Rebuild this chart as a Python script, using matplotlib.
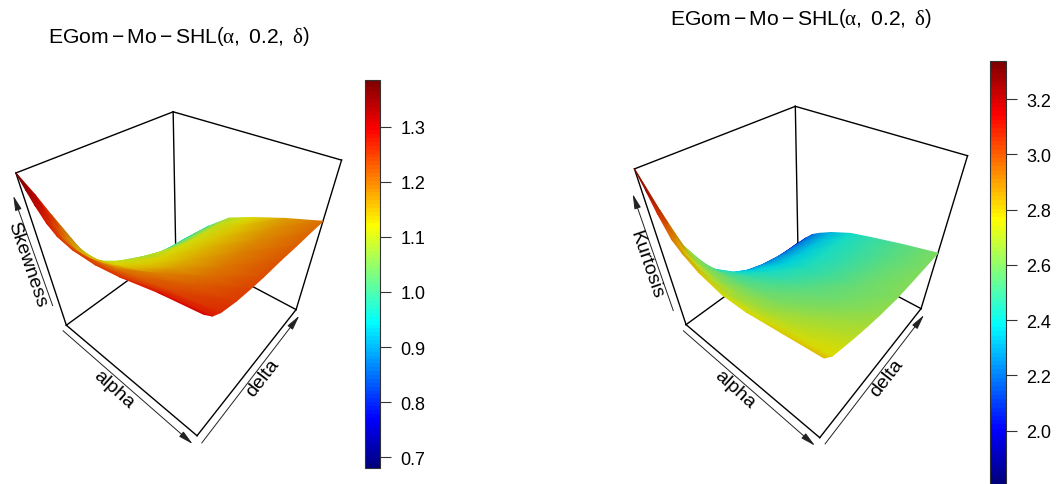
import numpy as np
import matplotlib
matplotlib.use('Agg')
import matplotlib.pyplot as plt
from matplotlib.colors import LinearSegmentedColormap, Normalize
from matplotlib.cm import ScalarMappable
from matplotlib.patches import FancyArrowPatch
from matplotlib.tri import Triangulation
from mpl_toolkits.mplot3d import proj3d

plt.rcParams['font.family'] = ['Liberation Sans', 'DejaVu Sans']
plt.rcParams['mathtext.fontset'] = 'custom'
plt.rcParams['mathtext.rm'] = 'Liberation Sans'
plt.rcParams['mathtext.it'] = 'Liberation Serif'

# surface heights, rows follow alpha, columns follow delta
alpha = [0, .04, .08, .14, .2, .3, .45, .6, .8, 1]
delta = [0, .05, .1, .2, .3, .4, .55, .7, .85, 1]
skewness = [
    [1.385, 1.318, 1.243, 1.096, 1.004, .938, .878, .851, .840, .840],
    [1.350, 1.285, 1.215, 1.087, 1.009, .955, .905, .879, .867, .862],
    [1.318, 1.255, 1.192, 1.084, 1.020, .976, .935, .910, .898, .889],
    [1.280, 1.222, 1.170, 1.087, 1.041, 1.009, .955, .935, .925, .915],
    [1.258, 1.205, 1.160, 1.102, 1.069, 1.040, 1.000, .982, .972, .960],
    [1.245, 1.205, 1.170, 1.124, 1.102, 1.082, 1.050, 1.035, 1.026, 1.015],
    [1.245, 1.218, 1.195, 1.155, 1.135, 1.125, 1.115, 1.103, 1.096, 1.085],
    [1.258, 1.235, 1.215, 1.190, 1.167, 1.158, 1.150, 1.140, 1.133, 1.123],
    [1.285, 1.260, 1.240, 1.222, 1.207, 1.198, 1.191, 1.182, 1.176, 1.167],
    [1.304, 1.275, 1.260, 1.246, 1.238, 1.232, 1.227, 1.219, 1.213, 1.205],
]
kurtosis = [
    [3.339, 3.040, 2.745, 2.438, 2.241, 2.134, 2.067, 2.013, 2.000, 2.000],
    [3.225, 2.960, 2.710, 2.453, 2.284, 2.187, 2.118, 2.072, 2.058, 2.054],
    [3.095, 2.870, 2.675, 2.469, 2.330, 2.245, 2.179, 2.141, 2.127, 2.121],
    [2.945, 2.770, 2.640, 2.492, 2.386, 2.315, 2.253, 2.224, 2.210, 2.201],
    [2.880, 2.730, 2.635, 2.514, 2.425, 2.361, 2.303, 2.278, 2.265, 2.254],
    [2.805, 2.695, 2.630, 2.538, 2.470, 2.419, 2.368, 2.349, 2.338, 2.328],
    [2.750, 2.680, 2.635, 2.565, 2.519, 2.482, 2.445, 2.431, 2.423, 2.415],
    [2.750, 2.695, 2.655, 2.600, 2.558, 2.526, 2.494, 2.483, 2.476, 2.469],
    [2.790, 2.735, 2.705, 2.658, 2.619, 2.590, 2.559, 2.549, 2.542, 2.536],
    [2.830, 2.770, 2.750, 2.710, 2.677, 2.649, 2.618, 2.609, 2.602, 2.595],
]
skew_ticks = [0.7, 0.8, 0.9, 1.0, 1.1, 1.2, 1.3]
kurt_ticks = [2.0, 2.2, 2.4, 2.6, 2.8, 3.0, 3.2]
W, H = 1061, 485

jet = LinearSegmentedColormap.from_list('jetlike', ['#00007F', 'blue', '#007FFF', 'cyan', '#7FFF7F',
                                                    'yellow', '#FF7F00', 'red', '#7F0000'], N=100)
surf_cmap = LinearSegmentedColormap.from_list('surf', jet(np.linspace(0, 1, 256))[:, :3] * 0.86)

def fx(x):
    return x / W

def fy(y):
    return 1 - y / H

def panel(z, box_lim, key_lim, ox, oy, s, title_xy, zlabel, zlabel_xy, alpha_xy, delta_xy,
          z_arrow, a_arrow, d_arrow, bar_box, ticks):
    z = np.array(z)
    vx0, vx1, vy0, vy1 = -0.095, 0.09, -0.095, 0.09
    pos = [fx(ox + s * vx0), fy(oy - s * vy0), s * (vx1 - vx0) / W, s * (vy1 - vy0) / H]
    ax = fig.add_axes(pos, projection='3d')
    ax.set_axis_off()
    ax.patch.set_alpha(0)
    ax.set_xlim3d(0, 1)
    ax.set_ylim3d(0, 1)
    ax.set_zlim3d(*box_lim)
    ax.set_box_aspect((1, 1, 1))
    ax.view_init(40, -50)
    ax.set_proj_type('persp', focal_length=0.205)
    zb, zt = box_lim
    edges = [((0, 0, zt), (0, 1, zt)), ((0, 1, zt), (1, 1, zt)), ((0, 0, zt), (0, 0, zb)), ((1, 1, zt), (1, 1, zb)),
             ((0, 1, zt), (0, 1, zb)), ((0, 0, zb), (0, 1, zb)), ((0, 1, zb), (1, 1, zb)), ((0, 0, zb), (1, 0, zb)),
             ((1, 0, zb), (1, 1, zb))]
    for a, b in edges:
        ax.plot([a[0], b[0]], [a[1], b[1]], [a[2], b[2]], color='k', lw=1.0, clip_on=False)

    # surface goes on a flat axes over the 3d one, far triangles first
    A, D = np.meshgrid(alpha, delta, indexing='ij')
    tx, ty, tz = proj3d.proj_transform(A.ravel(), D.ravel(), z.ravel(), ax.get_proj())
    na, nd = A.shape
    tris = []
    for i in range(na - 1):
        for j in range(nd - 1):
            p = i * nd + j
            tris.append([p, p + nd, p + nd + 1])
            tris.append([p, p + nd + 1, p + 1])
    tris = np.array(tris)
    tris = tris[np.argsort(-tz[tris].mean(axis=1))]
    over = fig.add_axes(pos)
    over.set_axis_off()
    over.patch.set_alpha(0)
    over.tripcolor(Triangulation(tx, ty, tris), z.ravel(), shading='gouraud', cmap=surf_cmap,
                   vmin=key_lim[0], vmax=key_lim[1], clip_on=False)
    over.set_xlim(vx0, vx1)
    over.set_ylim(vy0, vy1)

    title = r'$\mathrm{EGom}-\mathrm{Mo}-\mathrm{SHL}\left(\alpha,\ 0.2,\ \delta\right)$'
    fig.text(fx(title_xy[0]), fy(title_xy[1]), title, ha='center', va='center', fontsize=15.2)
    for label, xy, rot in ((zlabel, zlabel_xy, -71), ('alpha', alpha_xy, -42), ('delta', delta_xy, 52)):
        fig.text(fx(xy[0]), fy(xy[1]), label, ha='center', va='center', fontsize=14,
                 rotation=rot, rotation_mode='anchor')
    for arrow in (z_arrow, a_arrow, d_arrow):
        fig.add_artist(FancyArrowPatch((fx(arrow[0]), fy(arrow[1])), (fx(arrow[2]), fy(arrow[3])),
                                       transform=fig.transFigure, arrowstyle='-|>,head_length=0.9,head_width=0.2',
                                       mutation_scale=10, lw=0.7, color='#222222', shrinkA=0, shrinkB=0))

    cax = fig.add_axes([fx(bar_box[0]), fy(bar_box[3]), (bar_box[1] - bar_box[0]) / W, (bar_box[3] - bar_box[2]) / H])
    cb = fig.colorbar(ScalarMappable(Normalize(*key_lim), jet), cax=cax, ticks=ticks, format='%.1f')
    cb.outline.set_edgecolor('#333333')
    cb.outline.set_linewidth(0.8)
    cax.tick_params(length=8, width=0.8, color='#333333', labelsize=13, pad=7)

fig = plt.figure(figsize=(W / 100, H / 100), dpi=100)
panel(skewness, (0.84, 1.385), (0.68, 1.385), 183.7, 255.8, 1737, (178.5, 36), 'Skewness', (27, 265), (114, 390), (263, 378),
      (52.7, 306.7, 13.3, 196.7), (63, 331.7, 192.7, 445), (201.7, 444, 299.3, 316.7), (364.5, 379.5, 80.7, 469.3), skew_ticks)
panel(kurtosis, (2.0, 3.339), (1.808, 3.339), 806.1, 253.6, 1776.7, (801, 19), 'Kurtosis', (646, 265), (735, 390), (886.7, 378),
      (673.3, 311.7, 632.7, 195), (683.3, 331.7, 815, 446.7), (825, 445, 924, 316), (990, 1005.5, 61.7, 484.7), kurt_ticks)
fig.savefig('out.png', dpi=100)
